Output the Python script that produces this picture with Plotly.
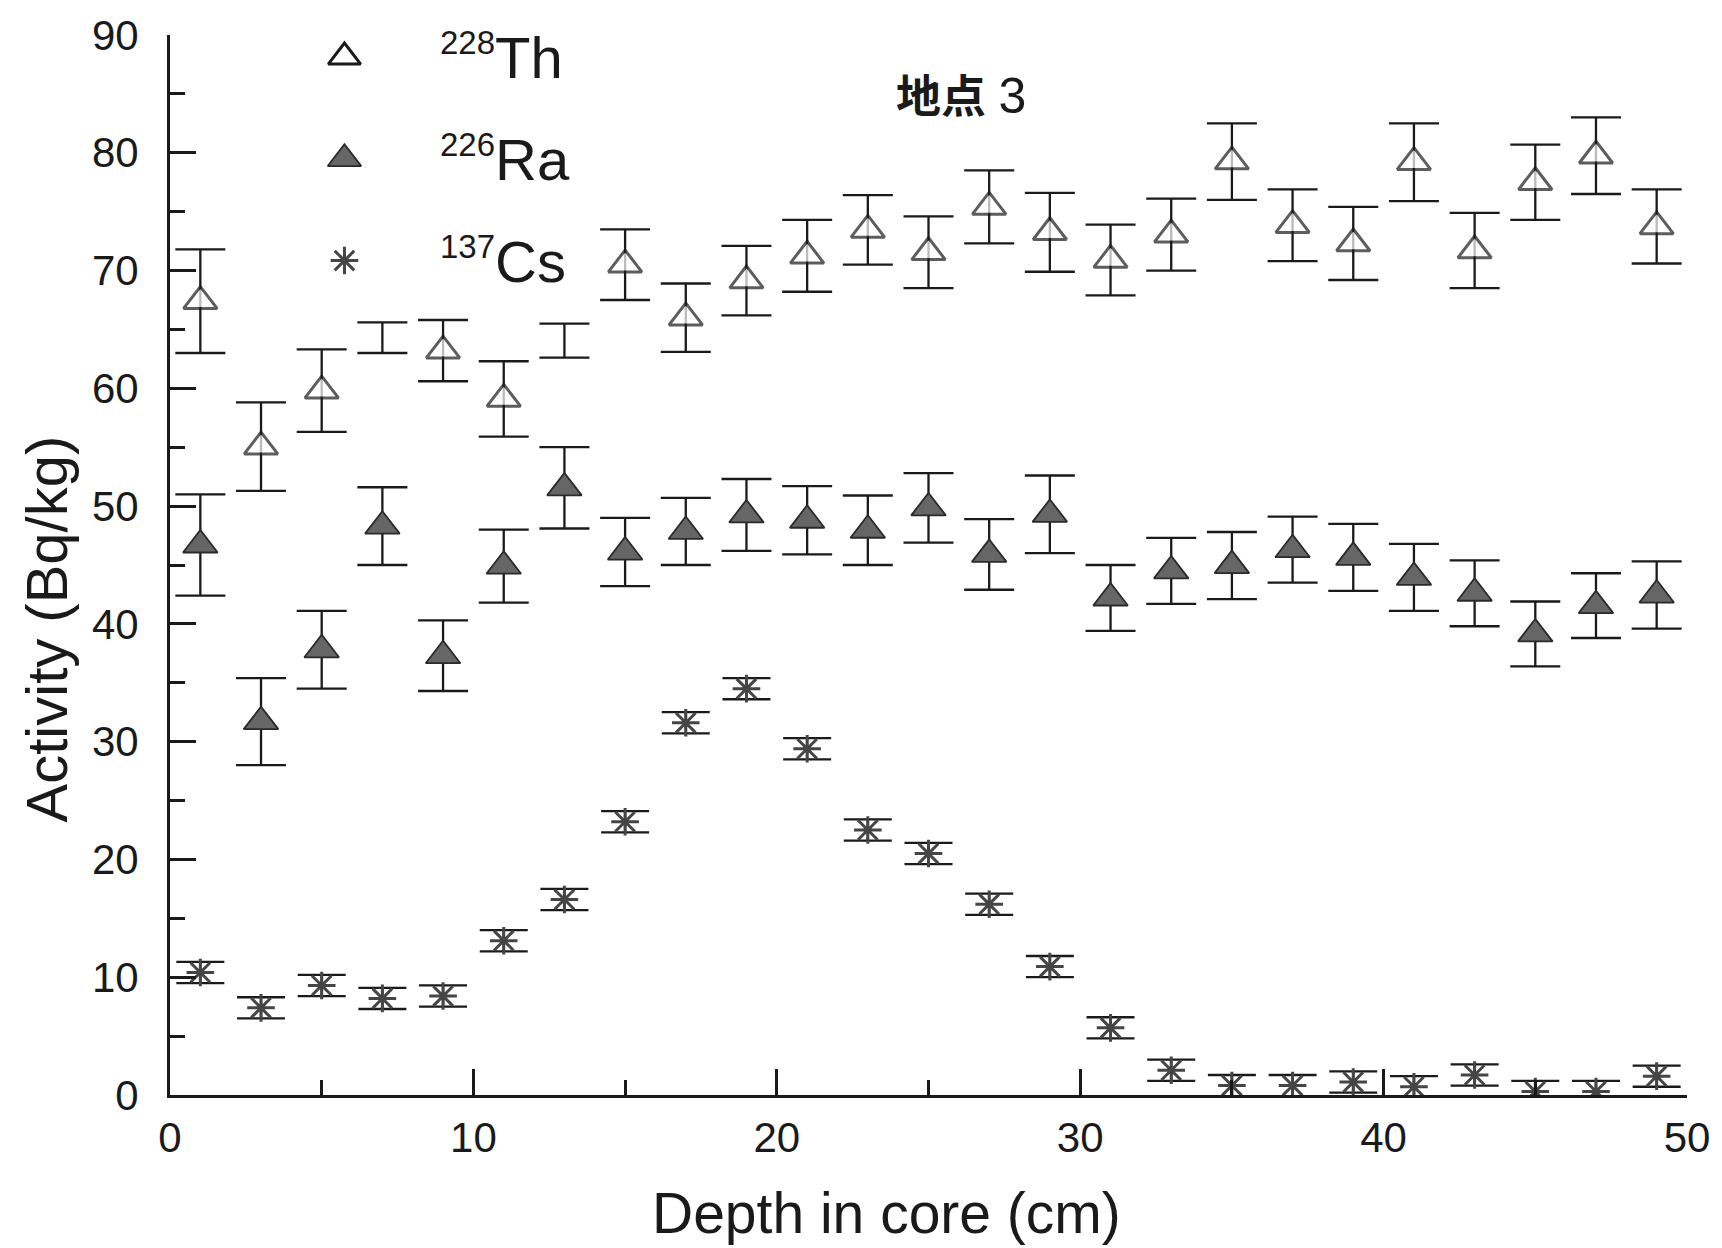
import plotly.graph_objects as go

# ---------------- data ----------------
depth = [1, 3, 5, 7, 9, 11, 13, 15, 17, 19, 21, 23, 25, 27, 29, 31, 33, 35, 37, 39, 41, 43, 45, 47, 49]

th228 = [67.4, 55.05, 59.8, 64.3, 63.2, 59.1, 64.05, 70.5, 66.0, 69.15, 71.25, 73.45, 71.55,
         75.4, 73.25, 70.9, 73.05, 79.25, 73.85, 72.3, 79.2, 71.7, 77.5, 79.75, 73.75]
th228_err = [4.4, 3.75, 3.5, 1.3, 2.6, 3.2, 1.45, 3.0, 2.9, 2.95, 3.05, 2.95, 3.05,
             3.1, 3.35, 3.0, 3.05, 3.25, 3.05, 3.1, 3.3, 3.2, 3.2, 3.25, 3.15]
th228_no_marker_depths = [7, 13]   # in the source only the error bar is printed

ra226 = [46.7, 31.7, 37.8, 48.3, 37.3, 44.9, 51.55, 46.1, 47.85, 49.25, 48.8, 47.95, 49.85,
         45.9, 49.3, 42.2, 44.5, 44.95, 46.3, 45.65, 43.95, 42.6, 39.15, 41.55, 42.45]
ra226_err = [4.3, 3.7, 3.3, 3.3, 3.0, 3.1, 3.45, 2.9, 2.85, 3.05, 2.9, 2.95, 2.95,
             3.0, 3.3, 2.8, 2.8, 2.85, 2.8, 2.85, 2.85, 2.8, 2.75, 2.75, 2.85]

cs137 = [10.4, 7.4, 9.3, 8.2, 8.4, 13.1, 16.6, 23.2, 31.6, 34.5, 29.4, 22.5, 20.5,
         16.2, 10.9, 5.7, 2.1, 0.8, 0.8, 1.1, 0.7, 1.7, 0.3, 0.3, 1.6]
cs137_err = [0.9] * 25

legend_isotopes = [("228", "Th"), ("226", "Ra"), ("137", "Cs")]
legend_rows = [2, 1, 0]

x_title = "Depth in core (cm)"
y_title = "Activity (Bq/kg)"
site_word = "地点"
site_number = "3"

# ---------------- styles ----------------
FONT = "Liberation Sans, Arial, sans-serif"
INK = "#1a1a1a"
RA_FILL = "#666666"
CS_COL = "#454545"

th_style = dict(symbol="triangle-up", color="white", line=dict(color=INK, width=3))
ra_style = dict(symbol="triangle-up", color=RA_FILL, line=dict(color="#2a2a2a", width=1.8))
cs_style = dict(symbol="asterisk-open", color=CS_COL, line=dict(color=CS_COL, width=3))

def err(arr, w):
    return dict(type="data", array=arr, visible=True, color=INK, thickness=2.3, width=w)

fig = go.Figure()

th_sizes = [0 if d in th228_no_marker_depths else 29 for d in depth]
fig.add_trace(go.Scatter(x=depth, y=th228, mode="markers", error_y=err(th228_err, 25),
                         marker=dict(size=th_sizes, **th_style), showlegend=False))
fig.add_trace(go.Scatter(x=depth, y=ra226, mode="markers", error_y=err(ra226_err, 25),
                         marker=dict(size=30, **ra_style), showlegend=False))
fig.add_trace(go.Scatter(x=depth, y=cs137, mode="markers", error_y=err(cs137_err, 24),
                         marker=dict(size=23, **cs_style), showlegend=False))

# legend keys on an inset (invisible) axis pair
key_styles = [dict(size=28, **th_style), dict(size=29, **ra_style), dict(size=23, **cs_style)]
for row, st in zip(legend_rows, key_styles):
    fig.add_trace(go.Scatter(x=[0.5], y=[row], mode="markers", marker=st,
                             xaxis="x2", yaxis="y2", showlegend=False, hoverinfo="skip"))

annotations = []
for (mass, sym), row in zip(legend_isotopes, legend_rows):
    txt = "<sup><span style='font-size:33px'>" + mass + "</span></sup>" + sym
    annotations.append(dict(text=txt, xref="paper", yref="y2", x=0.1765, y=row,
                            xanchor="left", yanchor="middle", showarrow=False,
                            font=dict(family=FONT, size=58, color=INK)))

annotations.append(dict(text=x_title, xref="paper", yref="paper", x=0.4724, y=-0.111,
                        xanchor="center", yanchor="middle", showarrow=False,
                        font=dict(family=FONT, size=57, color=INK)))
annotations.append(dict(text=y_title, xref="paper", yref="paper", x=-0.0814, y=0.4397,
                        xanchor="center", yanchor="middle", showarrow=False, textangle=-90,
                        font=dict(family=FONT, size=58, color=INK)))
annotations.append(dict(text="<b>" + site_word + "</b> <span style='font-size:50px'>" + site_number + "</span>",
                        xref="paper", yref="paper", x=0.5217, y=0.9426,
                        xanchor="center", yanchor="middle", showarrow=False,
                        font=dict(family="Liberation Sans, Noto Sans CJK SC, sans-serif",
                                  size=45, color=INK)))

axis_common = dict(showline=True, linecolor=INK, linewidth=3, ticks="inside", ticklen=26,
                   tickwidth=2.5, tickcolor=INK, showgrid=False, zeroline=False, mirror=False,
                   tickfont=dict(family=FONT, size=42, color=INK))

fig.update_layout(
    width=1722, height=1248,
    margin=dict(l=170, r=28, t=33, b=153),
    paper_bgcolor="white", plot_bgcolor="white",
    xaxis=dict(range=[0, 50], dtick=10, tick0=0, ticklabelstandoff=4,
               minor=dict(dtick=5, ticks="inside", ticklen=15, tickwidth=2.5, tickcolor=INK),
               **axis_common),
    yaxis=dict(range=[0, 90], dtick=10, tick0=0, ticklabelstandoff=20,
               minor=dict(dtick=5, ticks="inside", ticklen=15, tickwidth=2.5, tickcolor=INK),
               **axis_common),
    xaxis2=dict(domain=[0.05, 0.18], range=[0, 1], anchor="y2", visible=False, fixedrange=True),
    yaxis2=dict(domain=[0.7392, 0.9984], range=[-0.5, 2.2], anchor="x2", visible=False, fixedrange=True),
    annotations=annotations,
    showlegend=False,
)

fig.write_html("out.html", config={"displayModeBar": False},
               post_script="document.body.style.margin='0';")
